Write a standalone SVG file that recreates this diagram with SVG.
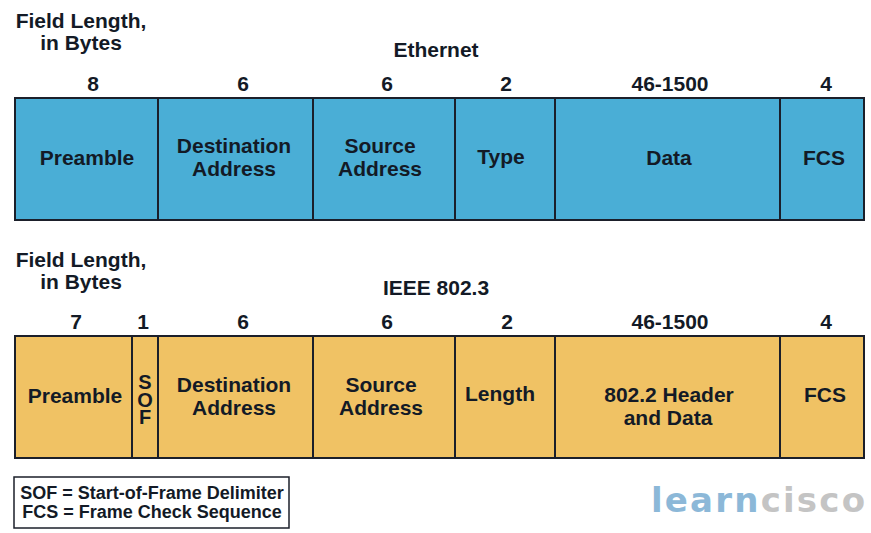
<svg xmlns="http://www.w3.org/2000/svg" width="871" height="533" viewBox="0 0 871 533">
<style>
text{font-family:"Liberation Sans",Arial,sans-serif;font-weight:bold;fill:#131a26;text-anchor:middle}
.t{font-size:21px}
.lg{font-size:18px}
.sof{font-size:20px;writing-mode:vertical-rl;text-orientation:upright;letter-spacing:-4.5px;text-anchor:start}
.eth{fill:#4aaed6;stroke:#1b1f2a;stroke-width:2}
.iee{fill:#f0c264;stroke:#1b1f2a;stroke-width:2}
.wm{font-family:"DejaVu Sans",sans-serif;font-size:34px;letter-spacing:2.2px;text-anchor:start}
</style>
<rect width="871" height="533" fill="#ffffff"/>

<g id="header-top">
<text class="t" x="81" y="28">Field Length,</text>
<text class="t" x="81" y="50">in Bytes</text>
<text class="t" x="436" y="57">Ethernet</text>
<text class="t" x="93" y="91">8</text>
<text class="t" x="243" y="91">6</text>
<text class="t" x="387" y="91">6</text>
<text class="t" x="506" y="91">2</text>
<text class="t" x="670" y="91">46-1500</text>
<text class="t" x="826" y="91">4</text>
</g>

<g id="eth-preamble"><rect class="eth" x="15" y="98" width="143" height="122"/><text class="t" x="87" y="165">Preamble</text></g>
<g id="eth-dest"><rect class="eth" x="158" y="98" width="155" height="122"/><text class="t" x="234" y="153">Destination</text><text class="t" x="234" y="176">Address</text></g>
<g id="eth-src"><rect class="eth" x="313" y="98" width="142" height="122"/><text class="t" x="380" y="153">Source</text><text class="t" x="380" y="176">Address</text></g>
<g id="eth-type"><rect class="eth" x="455" y="98" width="100" height="122"/><text class="t" x="501" y="164">Type</text></g>
<g id="eth-data"><rect class="eth" x="555" y="98" width="225" height="122"/><text class="t" x="669" y="165">Data</text></g>
<g id="eth-fcs"><rect class="eth" x="780" y="98" width="84" height="122"/><text class="t" x="824" y="165">FCS</text></g>

<g id="header-bottom">
<text class="t" x="81" y="267">Field Length,</text>
<text class="t" x="81" y="289">in Bytes</text>
<text class="t" x="436" y="295">IEEE 802.3</text>
<text class="t" x="76" y="329">7</text>
<text class="t" x="143" y="329">1</text>
<text class="t" x="243" y="329">6</text>
<text class="t" x="387" y="329">6</text>
<text class="t" x="507" y="329">2</text>
<text class="t" x="670" y="329">46-1500</text>
<text class="t" x="826" y="329">4</text>
</g>

<g id="ieee-preamble"><rect class="iee" x="15" y="336" width="117" height="122"/><text class="t" x="75" y="403">Preamble</text></g>
<g id="ieee-sof"><rect class="iee" x="132" y="336" width="26" height="122"/><text class="sof" x="145" y="371">SOF</text></g>
<g id="ieee-dest"><rect class="iee" x="158" y="336" width="155" height="122"/><text class="t" x="234" y="392">Destination</text><text class="t" x="234" y="415">Address</text></g>
<g id="ieee-src"><rect class="iee" x="313" y="336" width="142" height="122"/><text class="t" x="381" y="392">Source</text><text class="t" x="381" y="415">Address</text></g>
<g id="ieee-length"><rect class="iee" x="455" y="336" width="100" height="122"/><text class="t" x="500" y="401">Length</text></g>
<g id="ieee-data"><rect class="iee" x="555" y="336" width="225" height="122"/><text class="t" x="669" y="402">802.2 Header</text><text class="t" x="668" y="425">and Data</text></g>
<g id="ieee-fcs"><rect class="iee" x="780" y="336" width="84" height="122"/><text class="t" x="825" y="402">FCS</text></g>

<g id="legend">
<rect x="14" y="477" width="275" height="51" fill="#ffffff" stroke="#1b1f2a" stroke-width="1.5"/>
<text class="lg" x="152" y="499">SOF = Start-of-Frame Delimiter</text>
<text class="lg" x="152" y="518">FCS = Frame Check Sequence</text>
</g>

<g id="watermark">
<text class="wm" x="651" y="512"><tspan fill="#8cb8d8">learn</tspan><tspan fill="#c4c4c4">cisco</tspan></text>
</g>
</svg>
